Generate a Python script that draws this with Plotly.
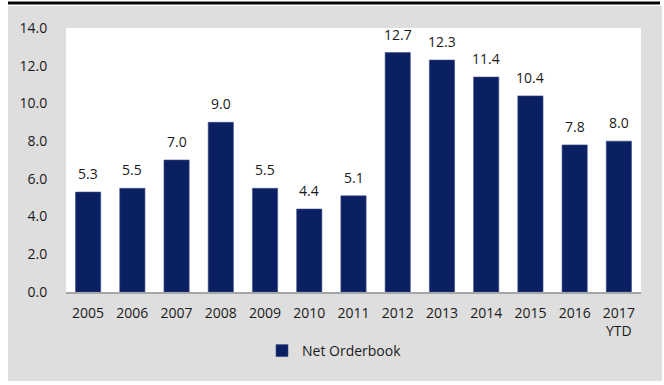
import plotly.graph_objects as go

categories = ["2005", "2006", "2007", "2008", "2009", "2010", "2011", "2012", "2013", "2014", "2015", "2016", "2017<br>YTD"]
net_orderbook = [5.3, 5.5, 7.0, 9.0, 5.5, 4.4, 5.1, 12.7, 12.3, 11.4, 10.4, 7.8, 8.0]
y_ticks = [0, 2, 4, 6, 8, 10, 12, 14]

W, H = 664, 385
L, R, T, B = 66, 641, 28, 292
pw, ph = R - L, B - T

def px_x(p):
    return (p - L) / pw

def px_y(p):
    return (B - p) / ph

FONT = "Open Sans, Liberation Sans, sans-serif"
BAR = "#0B2062"

fig = go.Figure()
fig.add_trace(go.Bar(
    x=categories, y=net_orderbook, name="Net Orderbook",
    marker=dict(color=BAR, line=dict(color="#3E4F86", width=0.6)),
    width=0.57,
))

# value labels: x given as category index on the category axis
for i, v in enumerate(net_orderbook):
    fig.add_annotation(x=i, y=v, text=f"{v:.1f}", showarrow=False,
                       yanchor="bottom", yshift=7,
                       font=dict(family=FONT, size=14, color="#1a1a1a"))

# gray chart panel, then white plot area
fig.add_shape(type="rect", xref="paper", yref="paper", layer="below",
              x0=px_x(8), x1=px_x(662), y0=px_y(381), y1=px_y(6),
              fillcolor="#DEDEDE", line=dict(width=0))
fig.add_shape(type="rect", xref="paper", yref="paper", layer="below",
              x0=0, x1=1, y0=0, y1=1, fillcolor="white", line=dict(width=0))
# black rule at top
fig.add_shape(type="line", xref="paper", yref="paper",
              x0=px_x(8), x1=px_x(660), y0=px_y(3), y1=px_y(3),
              line=dict(color="black", width=3))

fig.update_layout(
    width=W, height=H,
    margin=dict(l=L, r=W - R, t=T, b=H - B, pad=0),
    paper_bgcolor="white", plot_bgcolor="white",
    font=dict(family=FONT, size=14, color="#1a1a1a"),
    bargap=0.43,
    showlegend=True,
    legend=dict(orientation="h", x=px_x(262), xanchor="left",
                y=px_y(351), yanchor="middle",
                bgcolor="rgba(0,0,0,0)", font=dict(size=14, family=FONT)),
    xaxis=dict(type="category", range=[-0.5, len(categories) - 0.5],
               showgrid=False, showline=True,
               linecolor="#A6A6A6", linewidth=1.5,
               ticks="outside", ticklen=7, tickcolor="rgba(0,0,0,0)",
               tickfont=dict(size=14)),
    yaxis=dict(range=[0, 14], tickvals=y_ticks, tickformat=".1f",
               showgrid=False, zeroline=False, showline=False,
               ticks="outside", ticklen=15, tickcolor="rgba(0,0,0,0)",
               tickfont=dict(size=14)),
)

fig.write_html("out.html")
